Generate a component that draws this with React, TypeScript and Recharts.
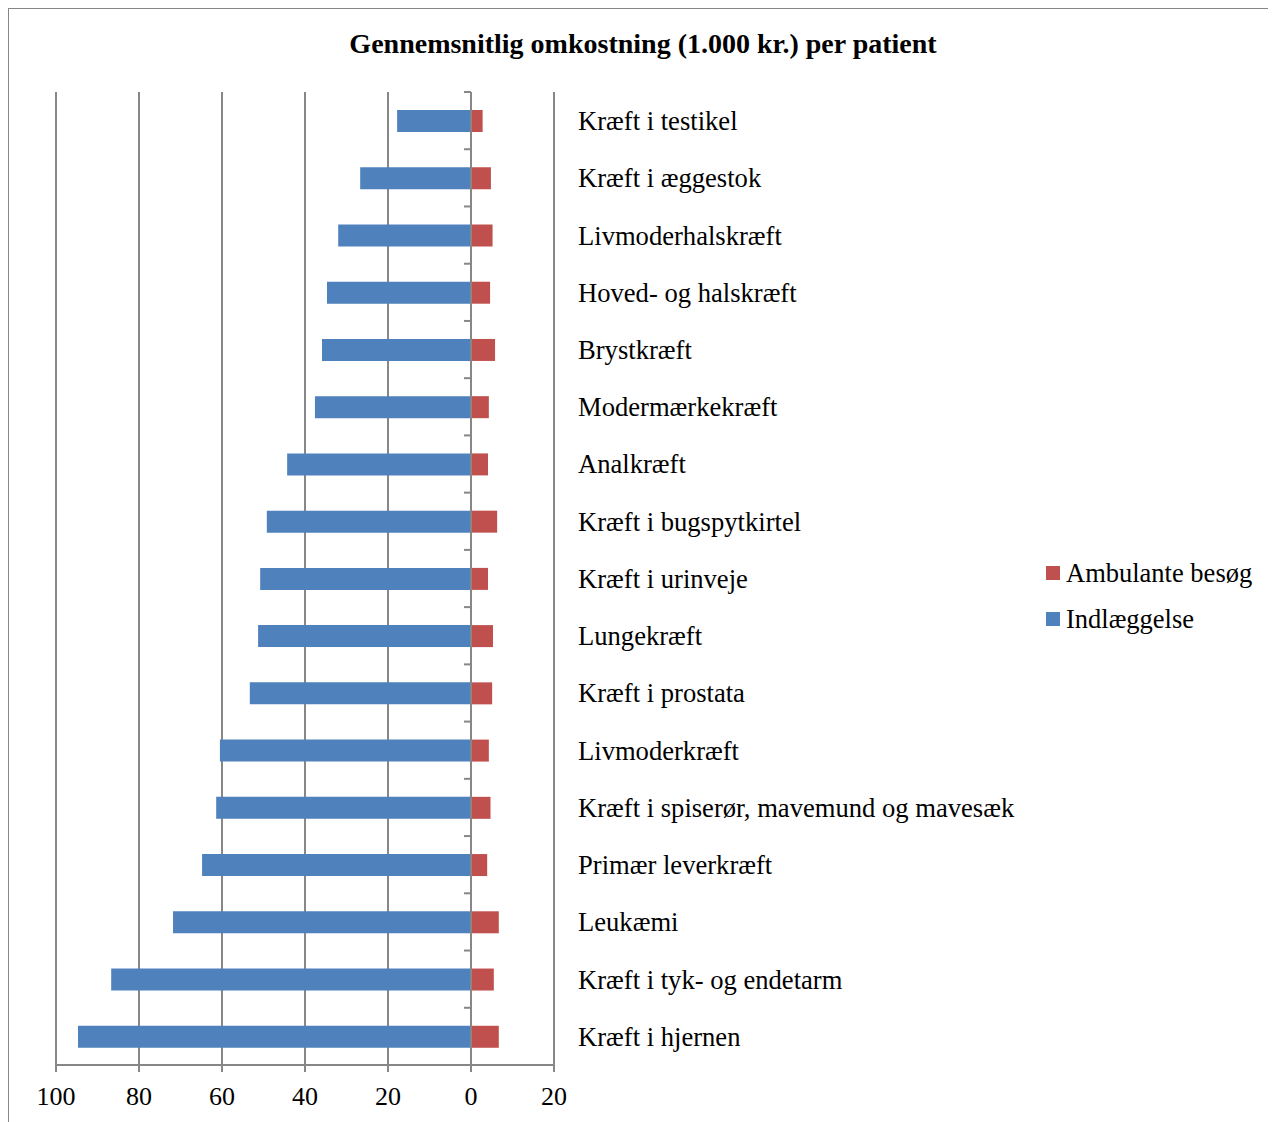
import React from 'react';
import { BarChart, Bar, XAxis, YAxis, CartesianGrid, ReferenceLine, Legend } from 'recharts';

const categories = [
  'Kræft i testikel',
  'Kræft i æggestok',
  'Livmoderhalskræft',
  'Hoved- og halskræft',
  'Brystkræft',
  'Modermærkekræft',
  'Analkræft',
  'Kræft i bugspytkirtel',
  'Kræft i urinveje',
  'Lungekræft',
  'Kræft i prostata',
  'Livmoderkræft',
  'Kræft i spiserør, mavemund og mavesæk',
  'Primær leverkræft',
  'Leukæmi',
  'Kræft i tyk- og endetarm',
  'Kræft i hjernen',
];
const indlaeggelse = [17.8, 26.7, 32.0, 34.7, 35.9, 37.6, 44.3, 49.2, 50.8, 51.3, 53.3, 60.5, 61.4, 64.8, 71.8, 86.7, 94.7];
const ambulante = [2.8, 4.8, 5.2, 4.6, 5.8, 4.3, 4.1, 6.3, 4.1, 5.3, 5.1, 4.3, 4.7, 3.9, 6.7, 5.5, 6.7];
const xTicks = [-20, 0, 20, 40, 60, 80, 100];
const xDomain = [-20, 100];

const TITLE = 'Gennemsnitlig omkostning (1.000 kr.) per patient';
const NAME_IND = 'Indlæggelse';
const NAME_AMB = 'Ambulante besøg';
const legendOrder = [NAME_AMB, NAME_IND];
const BLUE = '#4F81BD';
const RED = '#C0504D';
const GRID = '#878787';
const FONT = "'Liberation Serif', 'Times New Roman', serif";

const data = categories.map((c, i) => ({
  name: c,
  ind: indlaeggelse[i],
  amb: -ambulante[i],
}));

const CategoryAxisShape = (p: any) => {
  const { x1, y1, x2, y2 } = p;
  const top = Math.min(y1, y2);
  const bottom = Math.max(y1, y2);
  const step = (bottom - top) / categories.length;
  const marks = [];
  for (let i = 0; i <= categories.length; i++) {
    const y = top + i * step;
    marks.push(<line key={i} x1={x1 - 7} x2={x1} y1={y} y2={y} stroke={GRID} strokeWidth={2} />);
  }
  return (
    <g>
      <line x1={x1} y1={top} x2={x2} y2={bottom} stroke={GRID} strokeWidth={2} />
      {marks}
    </g>
  );
};

const LegendContent = (props: any) => {
  const payload = props.payload || [];
  const items = legendOrder
    .map((n) => payload.find((p: any) => p.value === n))
    .filter(Boolean);
  return (
    <div style={{ fontFamily: FONT, fontSize: 26.5, color: '#000' }}>
      {items.map((it: any) => (
        <div key={it.value} style={{ display: 'flex', alignItems: 'center', height: 46 }}>
          <div style={{ width: 14, height: 14, background: it.color, marginRight: 6 }} />
          <span style={{ lineHeight: '26px' }}>{it.value}</span>
        </div>
      ))}
    </div>
  );
};

export default function App() {
  return (
    <div style={{ position: 'relative', width: 1268, height: 1114, fontFamily: FONT }}>
      <div
        style={{
          position: 'absolute',
          left: 0,
          width: 1270,
          top: 20,
          textAlign: 'center',
          fontWeight: 'bold',
          fontSize: 28,
          lineHeight: '32px',
          color: '#000',
        }}
      >
        {TITLE}
      </div>
      <BarChart
        width={1268}
        height={1114}
        data={data}
        layout="vertical"
        stackOffset="sign"
        margin={{ top: 84, left: 48, right: 10, bottom: 17 }}
        barSize={22}
        style={{ position: 'absolute', left: 0, top: 0 }}
      >
        <CartesianGrid horizontal={false} vertical stroke={GRID} strokeWidth={2} />
        <XAxis
          type="number"
          domain={xDomain}
          ticks={xTicks}
          reversed
          allowDataOverflow
          tickFormatter={(v: number) => String(Math.abs(v))}
          axisLine={{ stroke: GRID, strokeWidth: 2 }}
          tickLine={{ stroke: GRID, strokeWidth: 2 }}
          tickSize={7}
          tickMargin={15}
          height={40}
          tick={{ fill: '#000', fontSize: 26, fontFamily: FONT }}
        />
        <YAxis
          type="category"
          dataKey="name"
          orientation="right"
          width={492}
          axisLine={false}
          tickLine={false}
          tickSize={0}
          tickMargin={24}
          interval={0}
          tick={{ fill: '#000', fontSize: 26.6, fontFamily: FONT }}
        />
        <Bar dataKey="ind" name={NAME_IND} stackId="s" fill={BLUE} isAnimationActive={false} />
        <Bar dataKey="amb" name={NAME_AMB} stackId="s" fill={RED} isAnimationActive={false} />
        <ReferenceLine x={0} shape={CategoryAxisShape} />
        <Legend
          layout="vertical"
          align="right"
          verticalAlign="middle"
          content={LegendContent}
          wrapperStyle={{ top: 542, right: 10, width: 220 }}
        />
      </BarChart>
      <div
        style={{
          position: 'absolute',
          left: -1,
          top: -1,
          width: 1278,
          height: 1116,
          borderTop: `2px solid ${GRID}`,
          borderLeft: `2px solid ${GRID}`,
          boxSizing: 'border-box',
          pointerEvents: 'none',
          zIndex: 5,
        }}
      />
    </div>
  );
}
